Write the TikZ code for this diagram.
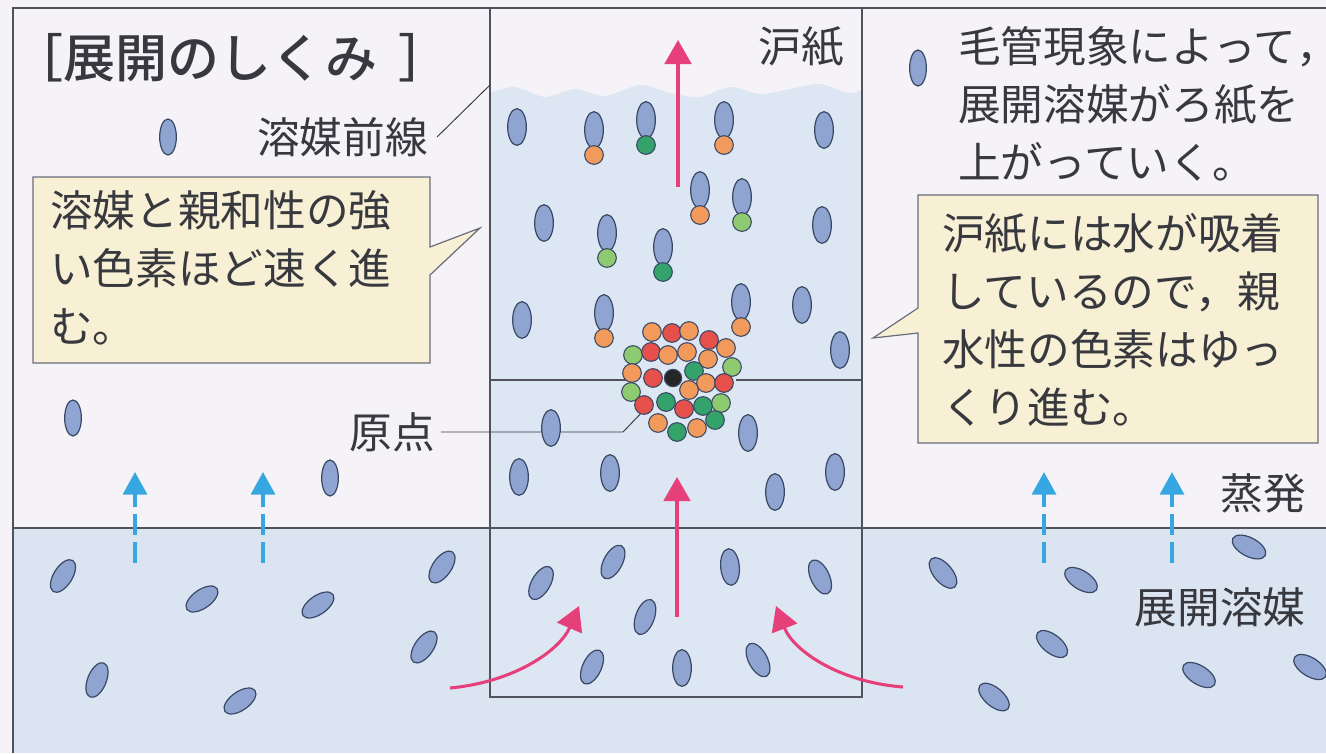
\documentclass[tikz,border=0pt]{standalone}
\usepackage{fontspec}
\setmainfont{Noto Sans CJK JP}[BoldFont={Noto Sans CJK JP Medium}]
\usetikzlibrary{arrows.meta,shapes.geometric}

\definecolor{paper}{HTML}{F5F3F8}
\definecolor{liquid}{HTML}{DBE4F1}
\definecolor{wet}{HTML}{DDE6F3}
\definecolor{cream}{HTML}{F7F0D4}
\definecolor{frameline}{HTML}{50525E}
\definecolor{boxline}{HTML}{6A6C7C}
\definecolor{ink}{HTML}{38383F}
\definecolor{molfill}{HTML}{8FA4D1}
\definecolor{moledge}{HTML}{3A4866}
\definecolor{arrowpink}{HTML}{E6407A}
\definecolor{vapour}{HTML}{36A7E0}
\definecolor{dyeorange}{HTML}{F2995C}
\definecolor{dyered}{HTML}{E5504B}
\definecolor{dyegreen}{HTML}{33A36B}
\definecolor{dyelight}{HTML}{8DCA70}

\tikzset{
  mol/.style={ellipse, draw=moledge, fill=molfill, line width=0.9pt,
    minimum width=14pt, minimum height=27.5pt, inner sep=0pt},
  airmol/.style={mol, minimum width=12.5pt, minimum height=27pt},
  dye/.style={circle, draw=moledge, line width=0.8pt, minimum size=14pt, inner sep=0pt},
  frame/.style={draw=frameline, line width=1.1pt},
  leader/.style={draw=ink, line width=0.7pt},
  callout/.style={draw=boxline, fill=cream, line width=0.9pt},
  txt/.style={text=ink, inner sep=0pt, font=\fontsize{32pt}{43.5pt}\selectfont},
  para/.style={txt, align=left, anchor=north west},
  flow/.style={draw=arrowpink, line width=2.3pt, -{Triangle[length=18pt,width=20pt]}},
  rise/.style={draw=vapour, line width=2.6pt, dash pattern=on 16pt off 5pt,
    -{Triangle[length=17pt,width=18pt]}},
}

\begin{document}
\begin{tikzpicture}[x=0.75pt,y=-0.75pt]
\useasboundingbox (0,0) rectangle (1326,753);
\fill[paper] (0,0) rectangle (1326,753);

% developing solvent in the vessel
\fill[liquid] (13,528) rectangle (1326,753);

% wet part of the filter paper, up to the solvent front
\fill[wet] (490,528) -- plot[smooth] coordinates {(490,93) (515,87) (545,97) (575,89)
  (605,96) (640,85) (670,93) (700,97) (730,87) (760,94) (790,89) (820,84) (848,93) (862,90)}
  -- (862,528) -- cycle;
\fill[wet] (490,528) rectangle (862,697);

% frame, liquid surface, filter paper, start line
\draw[frame] (13,753) -- (13,8) -- (1326,8);
\draw[frame] (13,528) -- (1326,528);
\draw[frame] (490,8) rectangle (862,697);
\draw[frame] (490,380) -- (626,380);
\draw[frame] (736,380) -- (862,380);

% callouts
\draw[callout] (33,177) -- (430,177) -- (430,247) -- (480,228) -- (430,275)
  -- (430,363) -- (33,363) -- cycle;
\draw[callout] (918,195) -- (1318,195) -- (1318,443) -- (918,443) -- (918,333)
  -- (873,338) -- (918,308) -- cycle;

% texts
\node[txt, anchor=west, font=\fontsize{39pt}{42pt}\selectfont\bfseries] (title) at (11,58)
  {［展開のしくみ\hspace{0.4em}］};
\node[txt, anchor=east] (front) at (428,137) {溶媒前線};
\node[txt] (paper) at (801,47) {沪紙};
\node[txt] (origin) at (392,432) {原点};
\node[txt] (evap) at (1263,493) {蒸発};
\node[txt] (solvent) at (1220,607) {展開溶媒};
\node[para] (capillary) at (958,26)
  {毛管現象によって\makebox[0.4em][l]{，}\\展開溶媒がろ紙を\\上がっていく。};
\node[para] (fast) at (50,190) {溶媒と親和性の強\\い色素ほど速く進\\む。};
\node[para] (slow) at (942,213) {沪紙には水が吸着\\しているので，親\\水性の色素はゆっ\\くり進む。};

% leader lines
\coordinate (frontpt) at (490,85);
\draw[leader] (front.east) ++(9,0) -- (frontpt);
\coordinate (bend) at (623,432);
\coordinate (spot) at (647,407);
\draw[leader] (origin.east) ++(6,0) -- (bend) -- (spot);

% solvent molecules in the air
\foreach \x/\y [count=\i] in {168/137, 73/418, 330/478, 918/68}
  \node[airmol] (a\i) at (\x,\y) {};

% solvent molecules on the filter paper
\foreach \x/\y [count=\i] in {517/127, 824/130, 544/223, 822/225, 522/320, 802/305,
  840/350, 551/428, 748/433, 519/477, 610/473, 775/492, 835/472}
  \node[mol] (p\i) at (\x,\y) {};

% solvent molecules carrying a dye
\foreach \x/\y/\c [count=\i] in {594/130/dyeorange, 646/120/dyegreen, 724/120/dyeorange,
  700/190/dyeorange, 742/197/dyelight, 607/233/dyelight, 663/247/dyegreen,
  604/313/dyeorange, 741/302/dyeorange}
{
  \node[mol] (c\i) at (\x,\y) {};
  \node[dye, fill=\c] (c\i d) at (\x,\y+25) {};
}

% solvent molecules in the liquid
\foreach \x/\y/\r [count=\i] in {63/576/-32, 202/599/-55, 318/605/-55, 442/567/-35,
  424/647/-35, 97/680/-22, 240/701/-55, 541/583/-30, 613/562/-28, 645/617/-20,
  592/667/-25, 682/668/0, 730/567/5, 820/577/25, 758/660/28, 943/573/40, 1081/580/58,
  1249/547/62, 1052/644/52, 994/697/50, 1199/675/58, 1310/667/58}
  \node[mol, rotate=\r] (l\i) at (\x,\y) {};

% dye spot at the start point
\foreach \x/\y/\c [count=\i] in {652/332/dyeorange, 672/333/dyered, 689/331/dyeorange,
  709/340/dyered, 726/348/dyeorange, 633/355/dyelight, 651/352/dyered, 668/355/dyeorange,
  687/352/dyeorange, 708/359/dyeorange, 732/367/dyelight, 632/373/dyeorange,
  653/378/dyered, 694/371/dyegreen, 706/383/dyeorange, 724/383/dyered,
  631/392/dyelight, 689/390/dyeorange, 644/405/dyered, 666/402/dyegreen,
  684/409/dyered, 703/406/dyegreen, 721/403/dyelight, 715/420/dyegreen,
  658/423/dyeorange, 677/432/dyegreen, 697/428/dyeorange}
  \node[dye, fill=\c] (s\i) at (\x,\y) {};
\node[dye, fill=black!85, minimum size=13pt] (start) at (673,378) {};

% solvent flow
\coordinate (up1a) at (678,187); \coordinate (up1b) at (678,40);
\coordinate (up2a) at (677,617); \coordinate (up2b) at (677,477);
\draw[flow] (up1a) -- (up1b);
\draw[flow] (up2a) -- (up2b);
\coordinate (inLa) at (450,688); \coordinate (inLb) at (579,606);
\coordinate (inRa) at (903,687); \coordinate (inRb) at (776,606);
\draw[flow] (inLa) .. controls (515,682) and (560,650) .. (inLb);
\draw[flow] (inRa) .. controls (838,682) and (793,650) .. (inRb);

% evaporation
\foreach \x [count=\i] in {135, 263, 1044, 1172}
{
  \coordinate (ev\i a) at (\x,563);
  \coordinate (ev\i b) at (\x,472);
  \draw[rise] (ev\i a) -- (ev\i b);
}
\end{tikzpicture}
\end{document}
